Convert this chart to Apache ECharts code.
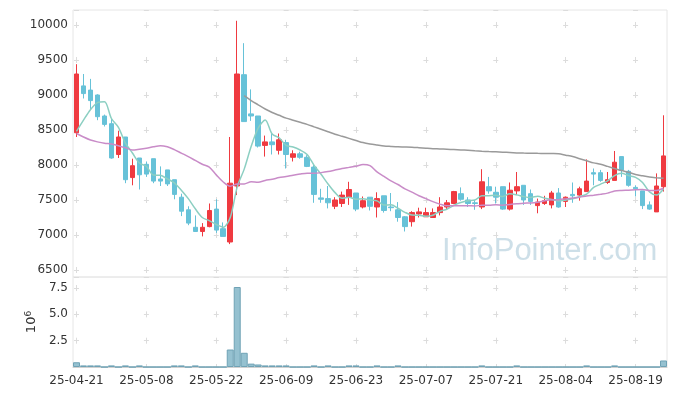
<!DOCTYPE html>
<html><head><meta charset="utf-8">
<script src="https://cdn.jsdelivr.net/npm/echarts@6/dist/echarts.min.js"></script>
<style>html,body{margin:0;padding:0;background:#fff}#c{width:677px;height:396px}</style>
</head><body><div id="c"></div>
<script>
const dates = ['25-04-21','25-04-22','25-04-23','25-04-24','25-04-25','25-04-28','25-04-29','25-04-30','25-05-02','25-05-07',
'25-05-08','25-05-09','25-05-12','25-05-13','25-05-14','25-05-15','25-05-16','25-05-19','25-05-20','25-05-21',
'25-05-22','25-05-23','25-05-26','25-05-27','25-05-28','25-05-29','25-05-30','25-06-02','25-06-04','25-06-05',
'25-06-09','25-06-10','25-06-11','25-06-12','25-06-13','25-06-16','25-06-17','25-06-18','25-06-19','25-06-20',
'25-06-23','25-06-24','25-06-25','25-06-26','25-06-27','25-06-30','25-07-01','25-07-02','25-07-03','25-07-04',
'25-07-07','25-07-08','25-07-09','25-07-10','25-07-11','25-07-14','25-07-15','25-07-16','25-07-17','25-07-18',
'25-07-21','25-07-22','25-07-23','25-07-24','25-07-25','25-07-28','25-07-29','25-07-30','25-07-31','25-08-01',
'25-08-04','25-08-05','25-08-06','25-08-07','25-08-08','25-08-11','25-08-12','25-08-13','25-08-14','25-08-18',
'25-08-19','25-08-20','25-08-21','25-08-22','25-08-25'];
const opens = [8460,9130,9070,9000,8700,8590,8150,8400,7820,8100,
8010,8090,7800,7930,7790,7540,7360,7110,7050,7120,
7370,7090,6900,7700,9290,8730,8700,8280,8330,8210,
8320,8110,8160,8110,7970,7530,7520,7410,7450,7540,
7600,7400,7540,7400,7560,7400,7360,7260,7190,7300,
7260,7250,7320,7400,7450,7590,7500,7460,7400,7690,
7610,7690,7370,7630,7710,7590,7420,7450,7430,7600,
7480,7580,7570,7620,7890,7890,7750,7780,8120,7910,
7680,7630,7430,7330,7690];
const closes = [9300,9020,8920,8690,8580,8100,8400,7790,7990,7860,
7870,7770,7770,7730,7580,7340,7170,7050,7110,7350,
7070,6980,7740,9300,8620,8700,8270,8330,8290,8360,
8150,8160,8110,7980,7580,7510,7460,7500,7570,7650,
7370,7490,7410,7520,7350,7390,7250,7120,7320,7330,
7320,7320,7400,7460,7620,7510,7450,7450,7760,7630,
7540,7370,7640,7690,7500,7480,7470,7490,7600,7400,
7540,7560,7660,7770,7870,7780,7790,8040,7930,7710,
7660,7420,7370,7700,8130];
const lows = [8400,8950,8800,8640,8550,8090,8100,7740,7710,7650,
7830,7740,7700,7700,7510,7270,7140,7050,6980,7110,
7030,6980,6870,7570,8620,8630,8250,8120,8150,8150,
7950,8050,8090,7970,7460,7460,7380,7370,7400,7430,
7340,7380,7350,7250,7320,7340,7190,7050,7120,7250,
7260,7250,7280,7370,7440,7490,7400,7360,7370,7590,
7450,7360,7350,7570,7430,7430,7310,7430,7380,7390,
7400,7460,7490,7620,7710,7760,7730,7780,7830,7690,
7550,7370,7360,7330,7620];
const highs = [9440,9300,9230,9010,8720,8670,8490,8400,8090,8100,
8050,8090,7980,7930,7790,7590,7410,7280,7170,7450,
7510,7180,8400,10060,9740,9080,8700,8420,8450,8450,
8360,8210,8190,8140,8000,7660,7700,7540,7620,7760,
7600,7550,7540,7610,7560,7600,7470,7270,7340,7390,
7390,7380,7540,7500,7630,7680,7540,7500,7940,7830,
7690,7690,7750,7900,7710,7650,7520,7560,7630,7670,
7550,7750,7690,8080,7950,7930,7900,8200,8120,7930,
7710,7630,7480,7880,8710];
const ma5 = [8480,8640,8790,8890,8903,8664,8539,8313,8172,8029,
7982,7856,7852,7802,7745,7640,7519,7374,7250,7205,
7150,7112,7250,7688,7941,8267,8526,8644,8442,8389,
8280,8257,8214,8151,7995,7867,7728,7605,7524,7539,
7510,7516,7499,7488,7428,7431,7383,7324,7284,7281,
7268,7282,7338,7367,7424,7463,7489,7500,7559,7562,
7566,7549,7588,7573,7548,7535,7555,7525,7508,7486,
7498,7516,7549,7584,7679,7726,7772,7849,7881,7848,
7824,7751,7616,7570,7656];
const ma20 = [8450,8400,8357,8330,8310,8300,8275,8245,8214,8225,
8240,8260,8276,8260,8220,8170,8120,8065,8010,7970,
7859,7757,7697,7728,7730,7760,7753,7780,7795,7820,
7834,7854,7871,7883,7883,7891,7906,7928,7951,7966,
7981,8007,7990,7901,7838,7772,7721,7660,7612,7561,
7519,7477,7441,7416,7418,7418,7418,7415,7424,7424,
7432,7426,7437,7446,7454,7458,7469,7488,7502,7505,
7516,7528,7540,7556,7568,7582,7598,7628,7636,7640,
7646,7649,7635,7636,7667];
const ma60 = ['-','-','-','-','-','-','-','-','-','-',
'-','-','-','-','-','-','-','-','-','-',
'-','-','-','-',8990,8920,8860,8800,8750,8710,
8670,8640,8610,8580,8545,8510,8475,8440,8410,8380,
8350,8320,8300,8285,8271,8265,8260,8258,8255,8248,
8240,8233,8230,8225,8220,8215,8210,8203,8197,8192,
8188,8183,8178,8173,8170,8168,8166,8165,8163,8160,
8140,8120,8090,8060,8030,8010,7980,7950,7920,7895,
7865,7845,7828,7818,7810];
const volumes = [0.45,0.15,0.15,0.15,0,0.15,0,0.15,0,0.15,
0,0,0,0,0.15,0.15,0,0.15,0,0,
0,0,1.66,7.6,1.35,0.32,0.24,0.15,0.15,0.15,
0.15,0,0,0,0.15,0,0.15,0,0,0.15,
0.15,0,0,0.15,0,0,0.15,0,0,0,
0,0,0,0,0,0,0,0,0.15,0,
0,0,0,0.15,0,0,0,0,0,0,
0,0,0,0.15,0,0,0,0.15,0,0,
0,0,0,0,0.62];

const RED = '#ef3a40', BLUE = '#67c2d8';
const GRIDC = '#dcdcdc';
const font = 'DejaVu Sans';
const chart = echarts.init(document.getElementById('c'));
chart.setOption({
  animation: false,
  backgroundColor: '#fff',
  grid: [
    {left: 73, right: 10, top: 10, height: 267, show: true, borderColor: '#e6e6e6', borderWidth: 1},
    {left: 73, right: 10, top: 277, height: 90, show: true, borderColor: '#e6e6e6', borderWidth: 1}
  ],
  xAxis: [
    {type: 'category', gridIndex: 0, data: dates, boundaryGap: true,
     axisLine: {show: false}, axisTick: {show: false}, axisLabel: {show: false},
     splitLine: {show: true, interval: 9, alignWithLabel: true,
       lineStyle: {color: GRIDC, width: 1, type: [6, 29], dashOffset: 23}}},
    {type: 'category', gridIndex: 1, data: dates, boundaryGap: true,
     axisLine: {show: true, lineStyle: {color: '#d0d0d0'}}, axisTick: {show: false},
     axisLabel: {interval: 9, fontSize: 12, color: '#333', fontFamily: font, margin: 8},
     splitLine: {show: true, interval: 9, alignWithLabel: true,
       lineStyle: {color: GRIDC, width: 1, type: [6, 20.32], dashOffset: 18.27}}}
  ],
  yAxis: [
    {type: 'value', gridIndex: 0, min: 6400, max: 10214, splitNumber: 7, scale: true,
     axisLine: {show: false}, axisTick: {show: false},
     axisLabel: {fontSize: 12, color: '#333', fontFamily: font, margin: 5,
       showMinLabel: false, showMaxLabel: false, formatter: v => String(v)},
     splitLine: {show: true, lineStyle: {color: GRIDC, width: 1, type: [5, 64.88], dashOffset: 68.88}}},
    {type: 'value', gridIndex: 1, min: 0, max: 8.55, interval: 2.5,
     axisLine: {show: false}, axisTick: {show: false},
     axisLabel: {fontSize: 12, color: '#333', fontFamily: font, margin: 5,
       showMinLabel: false, showMaxLabel: false, formatter: v => v.toFixed(1)},
     name: '10{s|6}', nameLocation: 'middle', nameRotate: 90, nameGap: 34,
     nameTextStyle: {fontSize: 13, color: '#333', fontFamily: font,
       rich: {s: {fontSize: 9, color: '#333', fontFamily: font, verticalAlign: 'top', padding: [0, 0, 6, 0]}}},
     splitLine: {show: true, lineStyle: {color: GRIDC, width: 1, type: [5, 64.88], dashOffset: 68.88}}}
  ],
  graphic: [{type: 'text', left: 442, top: 236, z: 0, silent: true,
    style: {text: 'InfoPointer.com', font: '31px "Liberation Sans"', fill: 'rgba(175,203,218,0.62)'}}],
  series: [
    {type: 'candlestick', xAxisIndex: 0, yAxisIndex: 0, barWidth: 5,
     data: dates.map((d, i) => [opens[i], closes[i], lows[i], highs[i]]),
     itemStyle: {color: RED, color0: BLUE, borderColor: RED, borderColor0: BLUE, borderWidth: 1}},
    {type: 'line', xAxisIndex: 0, yAxisIndex: 0, data: ma5, showSymbol: false, smooth: 0.3,
     lineStyle: {color: '#8ccfc2', width: 1.5}},
    {type: 'line', xAxisIndex: 0, yAxisIndex: 0, data: ma20, showSymbol: false, smooth: 0.3,
     lineStyle: {color: '#c98cc8', width: 1.5}},
    {type: 'line', xAxisIndex: 0, yAxisIndex: 0, data: ma60, showSymbol: false, smooth: 0.3,
     lineStyle: {color: '#9a9a9a', width: 1.5}},
    {type: 'bar', xAxisIndex: 1, yAxisIndex: 1, data: volumes, barCategoryGap: '0%',
     itemStyle: {color: '#95c1d0', borderColor: '#6fa2b5', borderWidth: 1}}
  ]
});
</script></body></html>
